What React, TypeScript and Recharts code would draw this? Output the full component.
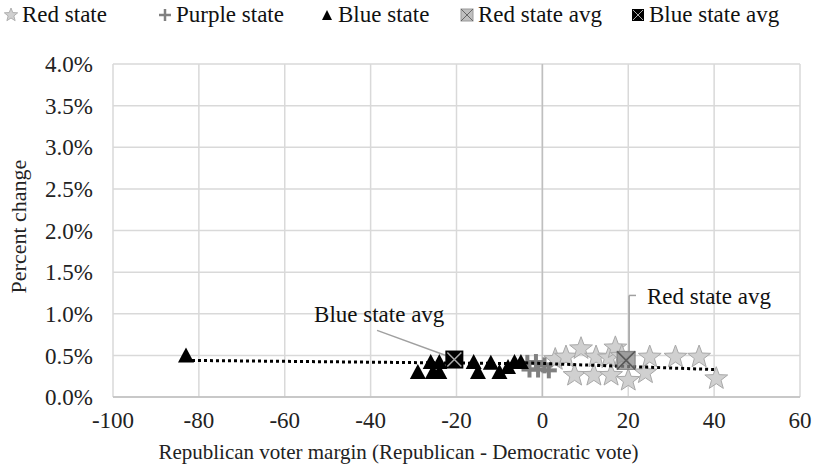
import React from 'react';
import {
  ScatterChart,
  Scatter,
  XAxis,
  YAxis,
  CartesianGrid,
  ReferenceLine,
  ReferenceDot,
} from 'recharts';

const FONT = 'Liberation Serif';

// x = Republican margin, y = percent change (in %)
const redStates = [
  { x: 3, y: 0.45 },
  { x: 5.5, y: 0.48 },
  { x: 7.5, y: 0.26 },
  { x: 9, y: 0.58 },
  { x: 12, y: 0.26 },
  { x: 12.5, y: 0.48 },
  { x: 15.5, y: 0.47 },
  { x: 16, y: 0.26 },
  { x: 17, y: 0.59 },
  { x: 18.5, y: 0.49 },
  { x: 20, y: 0.2 },
  { x: 24, y: 0.29 },
  { x: 25, y: 0.48 },
  { x: 31, y: 0.48 },
  { x: 36.5, y: 0.48 },
  { x: 40.5, y: 0.22 },
];

const purpleStates = [
  { x: -3.5, y: 0.41 },
  { x: -3, y: 0.33 },
  { x: -1.5, y: 0.42 },
  { x: -1, y: 0.33 },
  { x: 0.5, y: 0.38 },
  { x: 1.5, y: 0.32 },
];

const blueStates = [
  { x: -83, y: 0.5 },
  { x: -29, y: 0.3 },
  { x: -26, y: 0.42 },
  { x: -25.5, y: 0.3 },
  { x: -24, y: 0.42 },
  { x: -24, y: 0.3 },
  { x: -16, y: 0.42 },
  { x: -15, y: 0.3 },
  { x: -12, y: 0.41 },
  { x: -10, y: 0.3 },
  { x: -8, y: 0.36 },
  { x: -6.5, y: 0.42 },
  { x: -5, y: 0.42 },
];

const redAvg = [{ x: 19.5, y: 0.44 }];
const blueAvg = [{ x: -20.5, y: 0.45 }];

const blueTrend = [
  { x: -83, y: 0.44 },
  { x: -4, y: 0.4 },
];
const redTrend = [
  { x: -4, y: 0.41 },
  { x: 40, y: 0.33 },
];

const xTicks = [-100, -80, -60, -40, -20, 0, 20, 40, 60];
const yTicks = [0, 0.5, 1, 1.5, 2, 2.5, 3, 3.5, 4];

function starPath(cx: number, cy: number, ro: number, ri: number) {
  let d = '';
  for (let i = 0; i < 10; i++) {
    const r = i % 2 === 0 ? ro : ri;
    const a = -Math.PI / 2 + (i * Math.PI) / 5;
    d += (i === 0 ? 'M' : 'L') + (cx + r * Math.cos(a)).toFixed(2) + ',' + (cy + r * Math.sin(a)).toFixed(2);
  }
  return d + 'Z';
}

const StarShape = (p: any) => (
  <path d={starPath(p.cx, p.cy, 12, 5)} fill="#d0d0d0" stroke="#a8a8a8" strokeWidth={1} />
);

const CrossShape = (p: any) => (
  <g stroke="#808080" strokeWidth={4}>
    <line x1={p.cx - 8} y1={p.cy} x2={p.cx + 8} y2={p.cy} />
    <line x1={p.cx} y1={p.cy - 8} x2={p.cx} y2={p.cy + 8} />
  </g>
);

const TriangleShape = (p: any) => (
  <path d={`M${p.cx},${p.cy - 8}L${p.cx + 8},${p.cy + 7}L${p.cx - 8},${p.cy + 7}Z`} fill="#000" />
);

const RedAvgShape = (p: any) => (
  <g>
    <rect x={p.cx - 9} y={p.cy - 9} width={18} height={18} fill="#8c8c8c" fillOpacity={0.75} stroke="#7f7f7f" />
    <path d={`M${p.cx - 9},${p.cy - 9}L${p.cx + 9},${p.cy + 9}M${p.cx + 9},${p.cy - 9}L${p.cx - 9},${p.cy + 9}`} stroke="#595959" strokeWidth={1.5} />
  </g>
);

const BlueAvgShape = (p: any) => (
  <g>
    <rect x={p.cx - 9} y={p.cy - 9} width={18} height={18} fill="#000" />
    <path d={`M${p.cx - 7},${p.cy - 7}L${p.cx + 7},${p.cy + 7}M${p.cx + 7},${p.cy - 7}L${p.cx - 7},${p.cy + 7}`} stroke="#aaa" strokeWidth={1.5} />
  </g>
);

const NoShape = () => null;

function LegendRow() {
  const item = (icon: React.ReactNode, label: string, left: number) => (
    <div style={{ position: 'absolute', left, top: 2, display: 'flex', alignItems: 'center', gap: 4, fontFamily: FONT, fontSize: 23 }}>
      <svg width={14} height={14}>{icon}</svg>
      <span>{label}</span>
    </div>
  );
  return (
    <div style={{ position: 'absolute', left: 0, top: 0, width: 818, height: 34, color: '#111' }}>
      {item(<path d={starPath(7, 7, 7, 3)} fill="#d0d0d0" stroke="#b0b0b0" />, 'Red state', 4)}
      {item(
        <g stroke="#808080" strokeWidth={2.5}>
          <line x1={1} y1={7} x2={13} y2={7} />
          <line x1={7} y1={1} x2={7} y2={13} />
        </g>,
        'Purple state',
        158
      )}
      {item(<path d="M7,2L12,12L2,12Z" fill="#000" />, 'Blue state', 320)}
      {item(
        <g>
          <rect x={1} y={1} width={12} height={12} fill="#bfbfbf" stroke="#999" />
          <path d="M1,1L13,13M13,1L1,13" stroke="#666" />
        </g>,
        'Red state avg',
        460
      )}
      {item(
        <g>
          <rect x={1} y={1} width={12} height={12} fill="#000" />
          <path d="M2,2L12,12M12,2L2,12" stroke="#aaa" />
        </g>,
        'Blue state avg',
        631
      )}
    </div>
  );
}

export default function App() {
  return (
    <div style={{ position: 'absolute', left: 0, top: 0, width: 818, height: 471, background: '#fff' }}>
      <LegendRow />
      <ScatterChart width={818} height={471} margin={{ top: 64, right: 18, bottom: 0, left: 0 }} style={{ fontFamily: FONT }}>
        <CartesianGrid stroke="#d9d9d9" strokeWidth={1.5} />
        <XAxis
          type="number"
          dataKey="x"
          domain={[-100, 60]}
          ticks={xTicks}
          height={74}
          tickLine={false}
          tickSize={0}
          tickMargin={15}
          axisLine={{ stroke: '#bfbfbf', strokeWidth: 1.5 }}
          tick={{ fontFamily: FONT, fontSize: 23, fill: '#222' }}
          label={{
            value: 'Republican voter margin (Republican - Democratic  vote)',
            position: 'insideBottom',
            offset: 12,
            dx: -58,
            fontFamily: FONT,
            fontSize: 21,
            fill: '#222',
            style: { whiteSpace: 'pre' },
          }}
        />
        <YAxis
          type="number"
          dataKey="y"
          domain={[0, 4]}
          ticks={yTicks}
          width={113}
          tickLine={false}
          tickSize={0}
          tickMargin={20}
          axisLine={false}
          tick={{ fontFamily: FONT, fontSize: 23, fill: '#222' }}
          tickFormatter={(v: number) => v.toFixed(1) + '%'}
          label={{
            value: 'Percent change',
            angle: -90,
            position: 'insideLeft',
            offset: 18,
            dy: -4,
            fontFamily: FONT,
            fontSize: 22,
            fill: '#222',
            style: { textAnchor: 'middle' },
          }}
        />
        <ReferenceLine x={0} stroke="#bfbfbf" strokeWidth={1.5} />
        <Scatter data={redStates} shape={StarShape} isAnimationActive={false} />
        <Scatter data={purpleStates} shape={CrossShape} isAnimationActive={false} />
        <Scatter data={blueStates} shape={TriangleShape} isAnimationActive={false} />
        <Scatter
          data={blueTrend}
          shape={NoShape}
          line={{ stroke: '#000', strokeWidth: 3, strokeDasharray: '3 3' }}
          isAnimationActive={false}
        />
        <Scatter
          data={redTrend}
          shape={NoShape}
          line={{ stroke: '#000', strokeWidth: 3, strokeDasharray: '3 3' }}
          isAnimationActive={false}
        />
        <Scatter data={redAvg} shape={RedAvgShape} isAnimationActive={false} />
        <Scatter data={blueAvg} shape={BlueAvgShape} isAnimationActive={false} />
        <ReferenceLine
          segment={[
            { x: -38.5, y: 0.8 },
            { x: -21.5, y: 0.48 },
          ]}
          stroke="#a0a0a0"
          strokeWidth={1.5}
        />
        <ReferenceLine
          segment={[
            { x: 20.2, y: 1.22 },
            { x: 20.2, y: 0.55 },
          ]}
          stroke="#a0a0a0"
          strokeWidth={1.5}
        />
        <ReferenceLine
          segment={[
            { x: 20.2, y: 1.22 },
            { x: 21.8, y: 1.22 },
          ]}
          stroke="#a0a0a0"
          strokeWidth={1.5}
        />
        <ReferenceDot
          x={-38}
          y={1.0}
          r={0}
          fill="none"
          stroke="none"
          label={{ value: 'Blue  state avg', position: 'center', fontFamily: FONT, fontSize: 23, fill: '#111', style: { whiteSpace: 'pre' } }}
        />
        <ReferenceDot
          x={38.8}
          y={1.22}
          r={0}
          fill="none"
          stroke="none"
          label={{ value: 'Red  state avg', position: 'center', fontFamily: FONT, fontSize: 23, fill: '#111', style: { whiteSpace: 'pre' } }}
        />
      </ScatterChart>
    </div>
  );
}
